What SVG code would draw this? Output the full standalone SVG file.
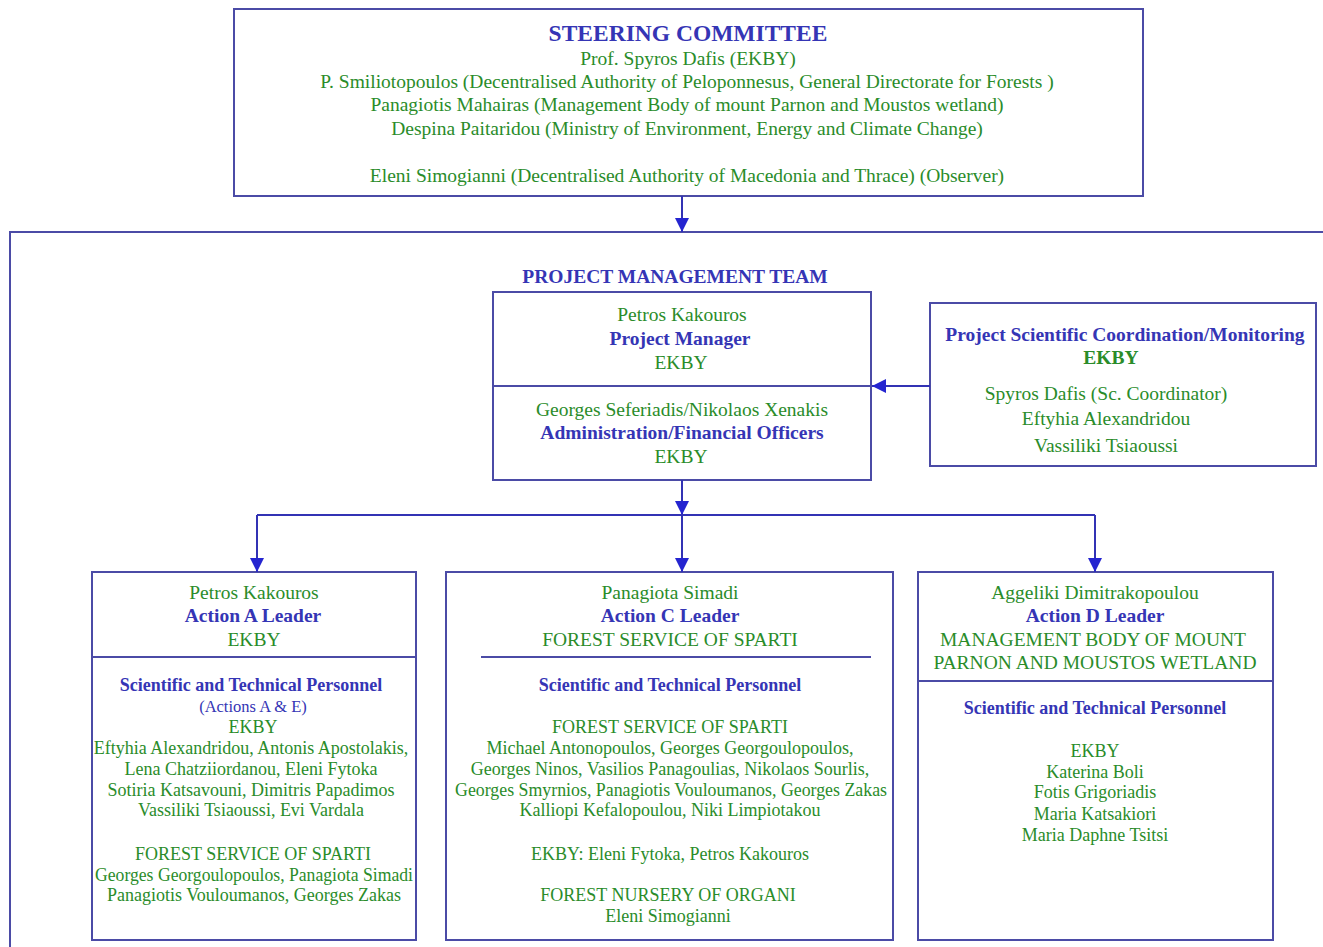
<svg xmlns="http://www.w3.org/2000/svg" width="1323" height="947" viewBox="0 0 1323 947">
<defs>
<style>
.box{fill:#ffffff;stroke:#4b4ba6;stroke-width:2}
.ln{fill:none;stroke:#4b4ba6;stroke-width:2}
.con{fill:none;stroke:#3232b4;stroke-width:2}
text{font-family:"Liberation Serif","Times New Roman",serif;text-anchor:middle}
.g{fill:#2a8c2a;font-size:19.5px}
.gs{fill:#2a8c2a;font-size:18px}
.b{fill:#3535b5;font-size:19.5px;font-weight:bold}
.bs{fill:#3535b5;font-size:18px;font-weight:bold}
.bn{fill:#3535b5;font-size:16.5px}
.title{fill:#3535b5;font-size:23.5px;font-weight:bold}
</style>
<marker id="ah" markerUnits="userSpaceOnUse" markerWidth="14" markerHeight="14" viewBox="0 0 14 14" refX="14" refY="7" orient="auto">
<path d="M0,0 L14,7 L0,14 Z" fill="#2525d0"/>
</marker>
</defs>
<rect width="1323" height="947" fill="#ffffff"/>

<g id="container">
<path class="ln" d="M10,947 V232 H1325"/>
<text class="b" x="675" y="283">PROJECT MANAGEMENT TEAM</text>
</g>

<g id="steering">
<rect class="box" x="234" y="9" width="909" height="187"/>
<text class="title" x="688" y="41">STEERING COMMITTEE</text>
<text class="g" x="688" y="65">Prof. Spyros Dafis (EKBY)</text>
<text class="g" x="687" y="88">P. Smiliotopoulos (Decentralised Authority of Peloponnesus, General Directorate for Forests )</text>
<text class="g" x="687" y="111">Panagiotis Mahairas (Management Body of mount Parnon and Moustos wetland)</text>
<text class="g" x="687" y="135">Despina Paitaridou (Ministry of Environment, Energy and Climate Change)</text>
<text class="g" x="687" y="182">Eleni Simogianni (Decentralised Authority of Macedonia and Thrace) (Observer)</text>
</g>

<g id="pm">
<rect class="box" x="493" y="292" width="378" height="188"/>
<line class="ln" x1="493" y1="386" x2="871" y2="386"/>
<text class="g" x="682" y="321">Petros Kakouros</text>
<text class="b" x="680" y="345">Project Manager</text>
<text class="g" x="681" y="369">EKBY</text>
<text class="g" x="682" y="416">Georges Seferiadis/Nikolaos Xenakis</text>
<text class="b" x="682" y="439">Administration/Financial Officers</text>
<text class="g" x="681" y="463">EKBY</text>
</g>

<g id="scientific">
<rect class="box" x="930" y="303" width="386" height="163"/>
<text class="b" x="1125" y="341">Project Scientific Coordination/Monitoring</text>
<text class="g" x="1111" y="364" font-weight="bold">EKBY</text>
<text class="g" x="1106" y="400">Spyros Dafis (Sc. Coordinator)</text>
<text class="g" x="1106" y="425">Eftyhia Alexandridou</text>
<text class="g" x="1106" y="452">Vassiliki Tsiaoussi</text>
</g>

<g id="actionA">
<rect class="box" x="92" y="572" width="324" height="368"/>
<line class="ln" x1="92" y1="657" x2="416" y2="657"/>
<text class="g" x="254" y="599">Petros Kakouros</text>
<text class="b" x="253" y="622">Action A Leader</text>
<text class="g" x="254" y="646">EKBY</text>
<text class="bs" x="251" y="691">Scientific and Technical Personnel</text>
<text class="bn" x="253" y="712">(Actions A &amp; E)</text>
<text class="gs" x="253" y="733">EKBY</text>
<text class="gs" x="251" y="754">Eftyhia Alexandridou, Antonis Apostolakis,</text>
<text class="gs" x="251" y="775">Lena Chatziiordanou, Eleni Fytoka</text>
<text class="gs" x="251" y="796">Sotiria Katsavouni, Dimitris Papadimos</text>
<text class="gs" x="251" y="816">Vassiliki Tsiaoussi, Evi Vardala</text>
<text class="gs" x="253" y="860">FOREST SERVICE OF SPARTI</text>
<text class="gs" x="254" y="881" textLength="318" lengthAdjust="spacingAndGlyphs">Georges Georgoulopoulos, Panagiota Simadi</text>
<text class="gs" x="254" y="901">Panagiotis Vouloumanos, Georges Zakas</text>
</g>

<g id="actionC">
<rect class="box" x="446" y="572" width="447" height="368"/>
<line class="ln" x1="481" y1="657" x2="871" y2="657"/>
<text class="g" x="670" y="599">Panagiota Simadi</text>
<text class="b" x="670" y="622">Action C Leader</text>
<text class="g" x="670" y="646">FOREST SERVICE OF SPARTI</text>
<text class="bs" x="670" y="691">Scientific and Technical Personnel</text>
<text class="gs" x="670" y="733">FOREST SERVICE OF SPARTI</text>
<text class="gs" x="670" y="754">Michael Antonopoulos, Georges Georgoulopoulos,</text>
<text class="gs" x="670" y="775">Georges Ninos, Vasilios Panagoulias, Nikolaos Sourlis,</text>
<text class="gs" x="671" y="796" textLength="432" lengthAdjust="spacingAndGlyphs">Georges Smyrnios, Panagiotis Vouloumanos, Georges Zakas</text>
<text class="gs" x="670" y="816">Kalliopi Kefalopoulou, Niki Limpiotakou</text>
<text class="gs" x="670" y="860">EKBY: Eleni Fytoka, Petros Kakouros</text>
<text class="gs" x="668" y="901">FOREST NURSERY OF ORGANI</text>
<text class="gs" x="668" y="922">Eleni Simogianni</text>
</g>

<g id="actionD">
<rect class="box" x="918" y="572" width="355" height="368"/>
<line class="ln" x1="918" y1="681" x2="1273" y2="681"/>
<text class="g" x="1095" y="599">Aggeliki Dimitrakopoulou</text>
<text class="b" x="1095" y="622">Action D Leader</text>
<text class="g" x="1093" y="646">MANAGEMENT BODY OF MOUNT</text>
<text class="g" x="1095" y="669">PARNON AND MOUSTOS WETLAND</text>
<text class="bs" x="1095" y="714">Scientific and Technical Personnel</text>
<text class="gs" x="1095" y="757">EKBY</text>
<text class="gs" x="1095" y="778">Katerina Boli</text>
<text class="gs" x="1095" y="798">Fotis Grigoriadis</text>
<text class="gs" x="1095" y="820">Maria Katsakiori</text>
<text class="gs" x="1095" y="841">Maria Daphne Tsitsi</text>
</g>

<g id="connectors">
<line class="con" x1="682" y1="196" x2="682" y2="232" marker-end="url(#ah)"/>
<line class="con" x1="930" y1="386" x2="872" y2="386" marker-end="url(#ah)"/>
<line class="con" x1="682" y1="480" x2="682" y2="515" marker-end="url(#ah)"/>
<line class="con" x1="257" y1="515" x2="1095" y2="515"/>
<line class="con" x1="682" y1="515" x2="682" y2="572" marker-end="url(#ah)"/>
<path class="con" d="M257,515 V572" marker-end="url(#ah)"/>
<path class="con" d="M1095,515 V572" marker-end="url(#ah)"/>
</g>
</svg>
